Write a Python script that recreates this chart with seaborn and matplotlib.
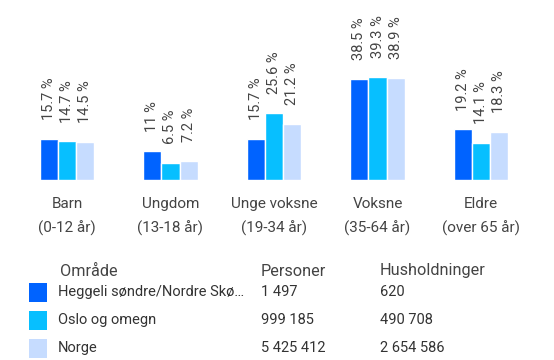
import matplotlib
matplotlib.use("Agg")
import matplotlib.pyplot as plt
from matplotlib.patches import Rectangle
import seaborn as sns
import pandas as pd

categories = ["Barn\n(0-12 år)", "Ungdom\n(13-18 år)", "Unge voksne\n(19-34 år)",
              "Voksne\n(35-64 år)", "Eldre\n(over 65 år)"]
areas = ["Heggeli søndre/Nordre Skø…", "Oslo og omegn", "Norge"]
heggeli = [15.7, 11.0, 15.7, 38.5, 19.2]
oslo = [14.7, 6.5, 25.6, 39.3, 14.1]
norge = [14.5, 7.2, 21.2, 38.9, 18.3]
personer = ["1 497", "999 185", "5 425 412"]
husholdninger = ["620", "490 708", "2 654 586"]
colors = ["#0063FF", "#07BFFF", "#C6DCFF"]

sns.set_theme(style="white")
plt.rcParams['font.family'] = ['Roboto', 'DejaVu Sans']

rows = []
for area, vals in zip(areas, [heggeli, oslo, norge]):
    for cat, v in zip(categories, vals):
        rows.append({"Kategori": cat, "Område": area, "Andel": v})
df = pd.DataFrame(rows)

fig = plt.figure(figsize=(5.54, 3.60), dpi=100)
ax = fig.add_axes([0, 0.5, 1, 0.5])
sns.barplot(data=df, x="Kategori", y="Andel", hue="Område", palette=colors,
            width=0.53, gap=0, saturation=1, legend=False, ax=ax, errorbar=None)

for cont in ax.containers:
    ax.bar_label(cont, labels=[f"{v:g} %" for v in cont.datavalues],
                 rotation=90, padding=13.5, fontsize=10.5, color="#444444")

ax.set_xlim(-0.647, 4.705)
ax.set_ylim(0, 68.4)
ax.set_xlabel("")
ax.set_ylabel("")
ax.set_yticks([])
for s in ax.spines.values():
    s.set_visible(False)
ax.tick_params(axis="x", length=0, pad=12.5, labelsize=11, labelcolor="#444444")
for lbl in ax.get_xticklabels():
    lbl.set_linespacing(1.75)

# legend table
W, H = 554, 360
row_y = [292, 320, 348]
for x, s in [(60, "Område"), (261, "Personer"), (380, "Husholdninger")]:
    fig.text(x / W, 1 - 271 / H, s, va="center", ha="left", fontsize=11.7, color="#444444")
for i, (area, p, h) in enumerate(zip(areas, personer, husholdninger)):
    y = row_y[i]
    fig.add_artist(Rectangle((29 / W, 1 - (y + 9.5) / H), 18 / W, 19 / H,
                             transform=fig.transFigure, facecolor=colors[i],
                             edgecolor="none"))
    for x, s in [(58, area), (261, p), (380, h)]:
        fig.text(x / W, 1 - y / H, s, va="center", ha="left", fontsize=10.5, color="#333333")

fig.savefig("out.png", dpi=100)
